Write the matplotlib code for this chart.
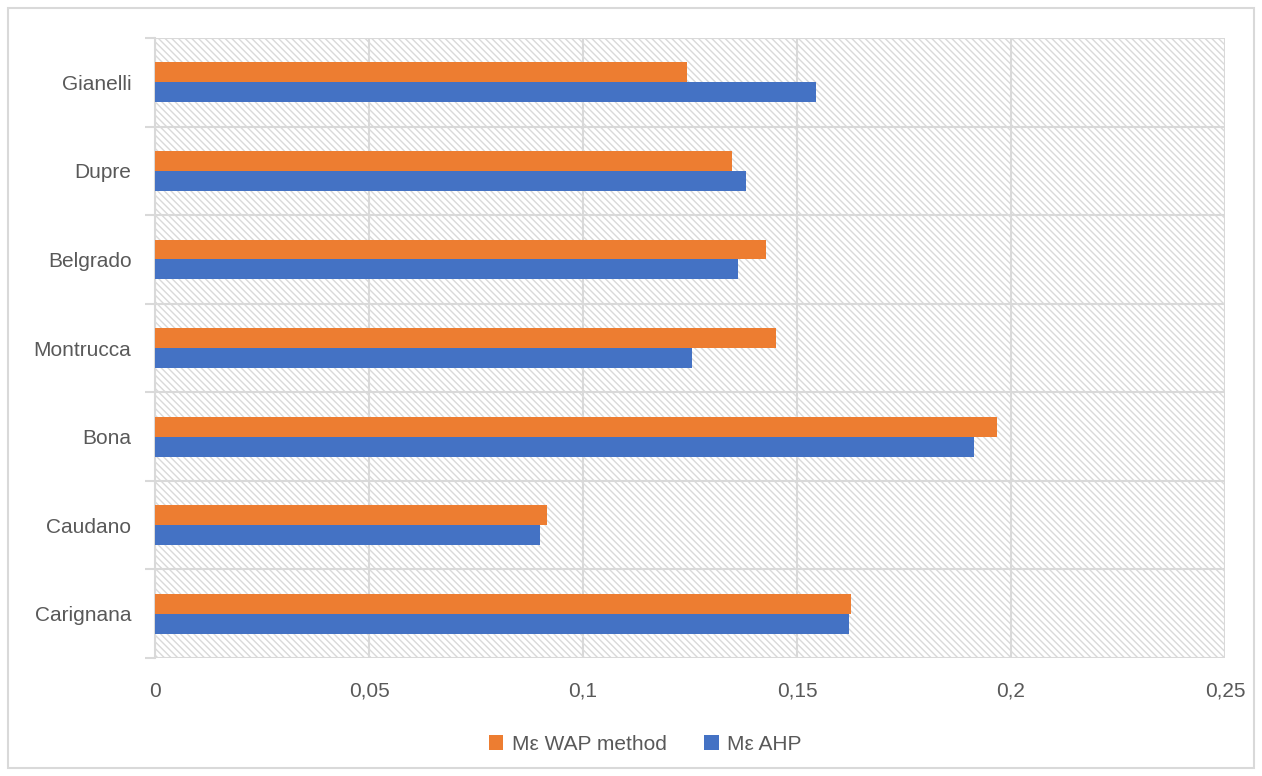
import matplotlib.pyplot as plt
import numpy as np
from matplotlib.patches import Rectangle

# dane
categories = ['Carignana', 'Caudano', 'Bona', 'Montrucca', 'Belgrado', 'Dupre', 'Gianelli']
wap = [0.1627, 0.0915, 0.1967, 0.1452, 0.1428, 0.1349, 0.1243]
ahp = [0.1621, 0.0900, 0.1914, 0.1255, 0.1363, 0.1382, 0.1544]
xticks = [0, 0.05, 0.1, 0.15, 0.2, 0.25]
xticklabels = ['0', '0,05', '0,1', '0,15', '0,2', '0,25']

plt.rcParams['font.family'] = ['Liberation Sans', 'DejaVu Sans']
plt.rcParams['hatch.color'] = '#d9d9d9'
plt.rcParams['hatch.linewidth'] = 1.0

grid_c = '#d9d9d9'
text_c = '#595959'

fig = plt.figure(figsize=(12.62, 7.76), dpi=100)
ax = fig.add_axes([155 / 1262, 1 - 658 / 776, 1070 / 1262, 620 / 776])

# tlo z kreskowaniem
ax.add_patch(Rectangle((0, 0), 1, 1, transform=ax.transAxes, facecolor='white',
                       edgecolor=grid_c, hatch='\\\\\\\\\\', linewidth=0, zorder=0))

y = np.arange(len(categories))
h = 0.225
ax.barh(y - h / 2, ahp, height=h, color='#4472c4', label='M\u03b5 AHP', zorder=3)
ax.barh(y + h / 2, wap, height=h, color='#ed7d31', label='M\u03b5 WAP method', zorder=3)

ax.set_xlim(0, 0.25)
ax.set_ylim(-0.5, len(categories) - 0.5)
ax.set_xticks(xticks)
ax.set_xticklabels(xticklabels)
ax.set_yticks(y)
ax.set_yticklabels(categories)
ax.set_yticks(np.arange(-0.5, len(categories)), minor=True)

ax.grid(axis='x', color=grid_c, linewidth=1.5, zorder=1)
ax.grid(axis='y', which='minor', color=grid_c, linewidth=1.5, zorder=1)
ax.set_axisbelow(True)

ax.tick_params(axis='x', length=0, pad=17, labelsize=15, labelcolor=text_c)
ax.tick_params(axis='y', which='major', length=0, pad=17, labelsize=15, labelcolor=text_c)
ax.tick_params(axis='y', which='minor', length=7, width=1.5, color=grid_c)

for s in ['top', 'right', 'bottom']:
    ax.spines[s].set_visible(False)
ax.spines['left'].set_color(grid_c)
ax.spines['left'].set_linewidth(1.5)

# legenda
handles, labels = ax.get_legend_handles_labels()
fig.legend(handles[::-1], labels[::-1], loc='center', bbox_to_anchor=(645 / 1262, 1 - 744 / 776),
           ncol=2, frameon=False, fontsize=15, labelcolor=text_c,
           handlelength=0.7, handleheight=0.7, handletextpad=0.4, columnspacing=1.8)

# ramka wykresu
fig.add_artist(Rectangle((8 / 1262, 8 / 776), 1246 / 1262, 760 / 776, transform=fig.transFigure,
                         facecolor='none', edgecolor=grid_c, linewidth=1.5))

plt.savefig('out.png')
